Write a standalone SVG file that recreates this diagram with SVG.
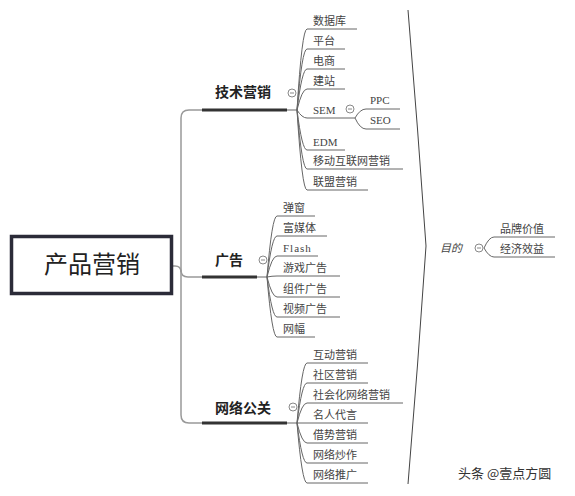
<svg xmlns="http://www.w3.org/2000/svg" width="575" height="496" viewBox="0 0 575 496">
<style>
.cn{font-family:"Noto Sans CJK SC","Liberation Sans",sans-serif;fill:#444;font-size:11px}
.lat{font-family:"Liberation Serif",serif;fill:#444;font-size:11px}
.par{font-family:"Noto Sans CJK SC","Liberation Sans",sans-serif;fill:#222;font-size:14px;font-weight:bold}
.ul{fill:none;stroke:#7a7a7a;stroke-width:1}
.fan{fill:none;stroke:#666;stroke-width:1}
.trunk{fill:none;stroke:#999;stroke-width:1.5}
.thick{fill:none;stroke:#333;stroke-width:3}
.tog{fill:#fff;stroke:#888;stroke-width:1}
.minus{stroke:#888;stroke-width:1}
</style>
<rect width="575" height="496" fill="#fff"/>
<g id="connectors">
<path class="trunk" d="M297,110 H189 Q181,110 181,118 V415 Q181,423 189,423 H297"/>
<path class="trunk" d="M173,266 H175 Q181,266 181,272"/>
<path class="trunk" d="M181,270 Q181,277 188,277 H267"/>
<path class="thick" d="M202,110 H287"/>
<path class="thick" d="M202,277 H257"/>
<path class="thick" d="M202,423 H287"/>
<!-- tech fan -->
<path class="fan" d="M297,110 Q302,29 307,29 H357"/>
<path class="fan" d="M297,110 Q302,49 307,49 H345"/>
<path class="fan" d="M297,110 Q302,69 307,69 H345"/>
<path class="fan" d="M297,110 Q302,89 307,89 H345"/>
<path class="fan" d="M297,110 Q302,118 307,118 H355"/>
<path class="fan" d="M297,110 Q302,150 307,150 H345"/>
<path class="fan" d="M297,110 Q302,169 307,169 H403"/>
<path class="fan" d="M297,110 Q302,190 307,190 H368"/>
<path class="fan" d="M355,118 Q360,109 366,109 H400"/>
<path class="fan" d="M355,118 Q360,129 366,129 H400"/>
<!-- ad fan -->
<path class="fan" d="M267,277 Q272,216 277,216 H315"/>
<path class="fan" d="M267,277 Q272,236 277,236 H327"/>
<path class="fan" d="M267,277 Q272,256 277,256 H318"/>
<path class="fan" d="M267,277 Q272,276 277,276 H340"/>
<path class="fan" d="M267,277 Q272,297 277,297 H340"/>
<path class="fan" d="M267,277 Q272,317 277,317 H340"/>
<path class="fan" d="M267,277 Q272,337 277,337 H315"/>
<!-- pr fan -->
<path class="fan" d="M297,423 Q302,363 307,363 H368"/>
<path class="fan" d="M297,423 Q302,383 307,383 H368"/>
<path class="fan" d="M297,423 Q302,403 307,403 H403"/>
<path class="fan" d="M297,423 Q302,423 307,423 H368"/>
<path class="fan" d="M297,423 Q302,443 307,443 H368"/>
<path class="fan" d="M297,423 Q302,463 307,463 H368"/>
<path class="fan" d="M297,423 Q302,483 307,483 H368"/>
<!-- goal fan -->
<path class="fan" d="M484,248 Q489,237 494,237 H555"/>
<path class="fan" d="M484,248 Q489,257 494,257 H555"/>
<!-- bracket -->
<path fill="none" stroke="#444" stroke-width="1" d="M408,10 Q418,130 426,246 Q418,365 408,484"/>
</g>
<g id="root">
<rect x="11.5" y="236.5" width="160" height="57" fill="#fff" stroke="#2b2b38" stroke-width="3.5"/>
<text x="92" y="273" text-anchor="middle" font-family="'Noto Sans CJK SC','Liberation Sans',sans-serif" font-size="24" fill="#222">产品营销</text>
</g>
<g id="tech">
<text class="par" x="215" y="97">技术营销</text>
<circle class="tog" cx="292" cy="93" r="4"/><line class="minus" x1="290" y1="93" x2="294" y2="93"/>
<text class="cn" x="313" y="25">数据库</text>
<text class="cn" x="313" y="45">平台</text>
<text class="cn" x="313" y="65">电商</text>
<text class="cn" x="313" y="85">建站</text>
<text class="lat" x="313" y="114">SEM</text>
<circle class="tog" cx="350" cy="109" r="4"/><line class="minus" x1="348" y1="109" x2="352" y2="109"/>
<text class="lat" x="370" y="104">PPC</text>
<text class="lat" x="370" y="124">SEO</text>
<text class="lat" x="313" y="146">EDM</text>
<text class="cn" x="313" y="165">移动互联网营销</text>
<text class="cn" x="313" y="186">联盟营销</text>
</g>
<g id="ad">
<text class="par" x="215" y="265">广告</text>
<circle class="tog" cx="263" cy="260" r="4"/><line class="minus" x1="261" y1="260" x2="265" y2="260"/>
<text class="cn" x="283" y="212">弹窗</text>
<text class="cn" x="283" y="232">富媒体</text>
<text class="lat" x="283" y="252" letter-spacing="1">Flash</text>
<text class="cn" x="283" y="272">游戏广告</text>
<text class="cn" x="283" y="293">组件广告</text>
<text class="cn" x="283" y="313">视频广告</text>
<text class="cn" x="283" y="333">网幅</text>
</g>
<g id="pr">
<text class="par" x="215" y="413">网络公关</text>
<circle class="tog" cx="293" cy="407" r="4"/><line class="minus" x1="291" y1="407" x2="295" y2="407"/>
<text class="cn" x="313" y="359">互动营销</text>
<text class="cn" x="313" y="379">社区营销</text>
<text class="cn" x="313" y="399">社会化网络营销</text>
<text class="cn" x="313" y="419">名人代言</text>
<text class="cn" x="313" y="439">借势营销</text>
<text class="cn" x="313" y="459">网络炒作</text>
<text class="cn" x="313" y="479">网络推广</text>
</g>
<g id="goal">
<text class="cn" x="440" y="252" font-size="12" font-style="italic" fill="#222">目的</text>
<circle class="tog" cx="479" cy="248" r="4"/><line class="minus" x1="477" y1="248" x2="481" y2="248"/>
<text class="cn" x="500" y="233">品牌价值</text>
<text class="cn" x="500" y="253">经济效益</text>
</g>
<g id="watermark">
<text x="458" y="478" font-family="'Noto Sans CJK SC','Liberation Sans',sans-serif" font-size="13" fill="#333">头条 @壹点方圆</text>
</g>
</svg>
